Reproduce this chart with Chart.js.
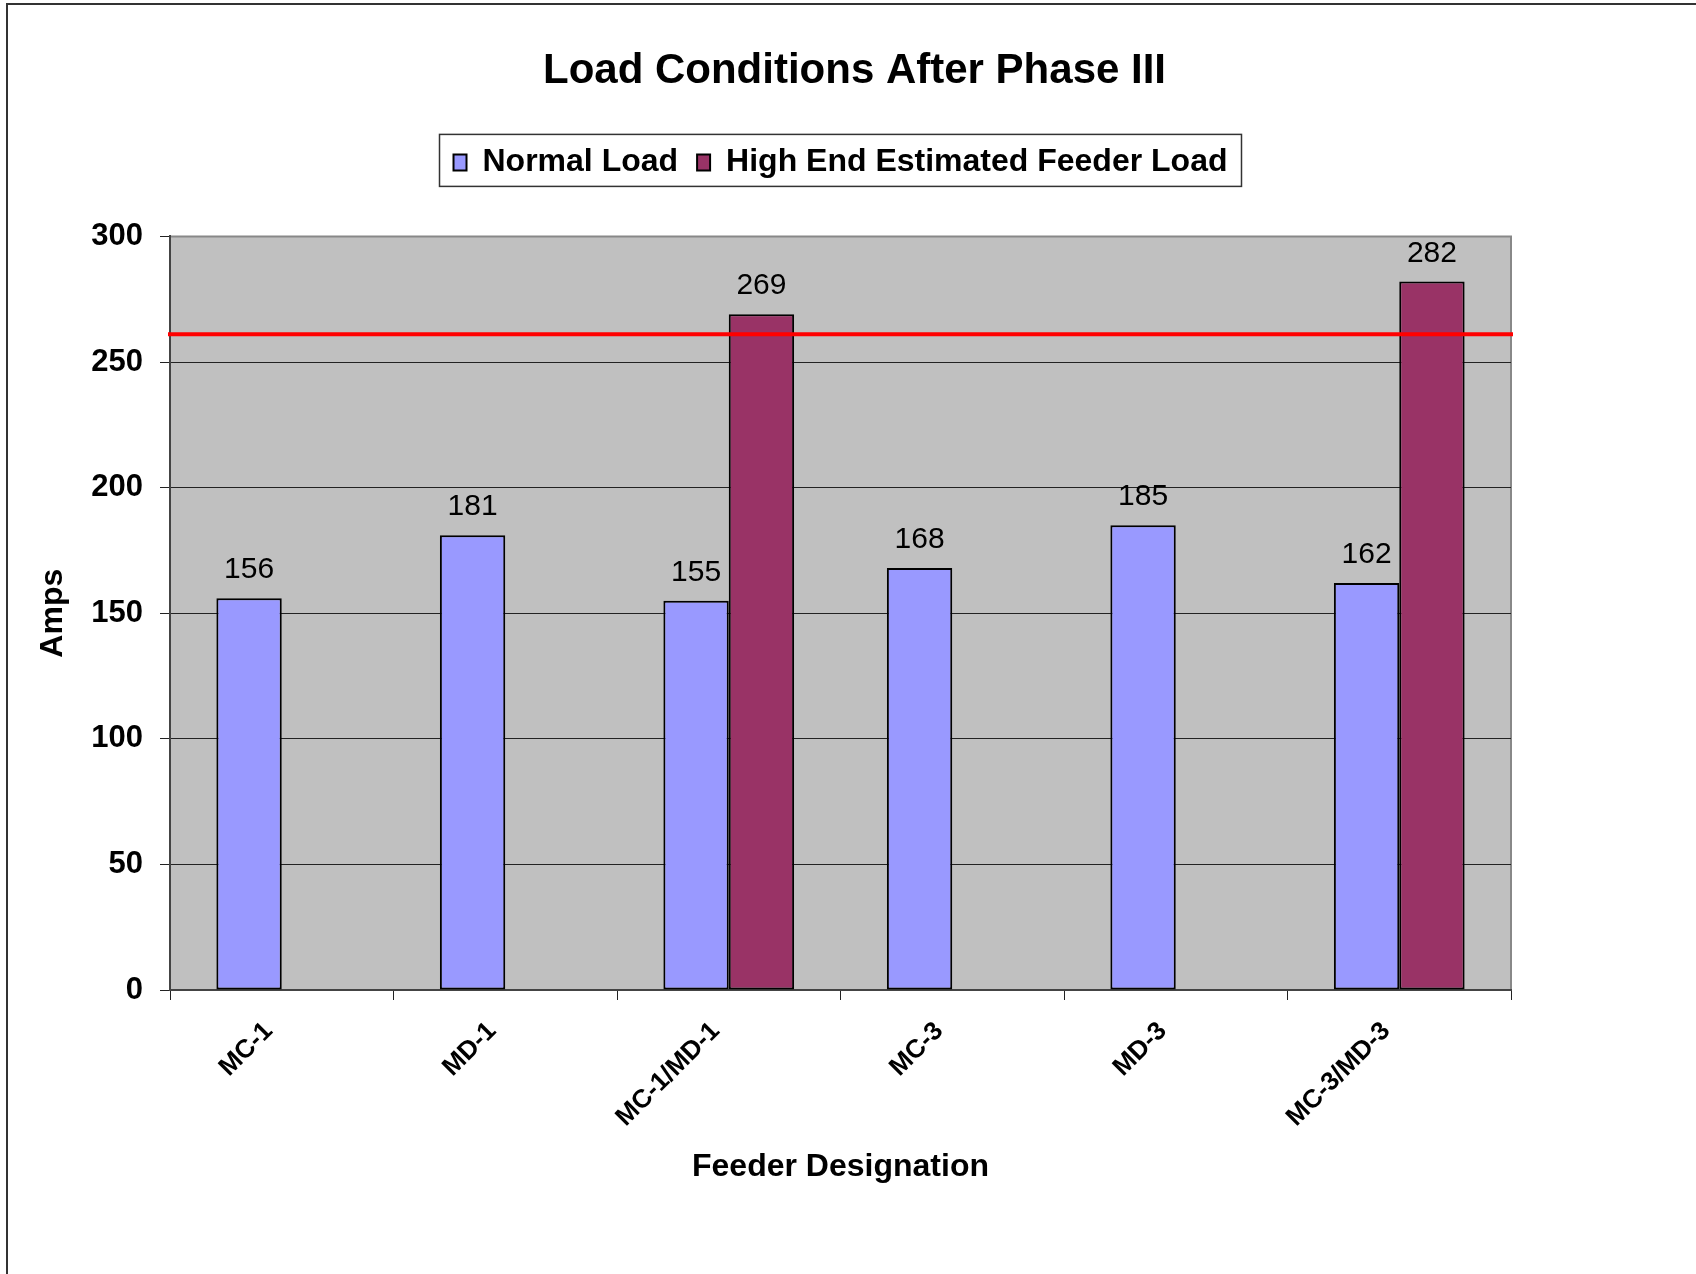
<!DOCTYPE html>
<html>
<head>
<meta charset="utf-8">
<script src="https://cdn.jsdelivr.net/npm/chart.js@4.4.0/dist/chart.umd.min.js"></script>
<style>
  html, body { margin: 0; padding: 0; background: #fff; overflow: hidden; }
  #wrap { position: relative; width: 1696px; height: 1274px; }
  #frame { position: absolute; left: 6px; top: 3px; width: 1700px; height: 1280px;
           border-left: 2px solid #333; border-top: 2px solid #333; pointer-events: none; }
</style>
</head>
<body>
<div id="wrap">
  <canvas id="grafico" width="1696" height="1274"></canvas>
  <div id="frame"></div>
</div>
<script>
const feeders = ['MC-1', 'MD-1', 'MC-1/MD-1', 'MC-3', 'MD-3', 'MC-3/MD-3'];
const normalLoad = [156, 181, 155, 168, 185, 162];
const highEndLoad = [null, null, 269, null, null, 282];
const ampTicks = [0, 50, 100, 150, 200, 250, 300];
const limiteAmps = 261;

Chart.defaults.font.family = '"Liberation Sans", Arial, Helvetica, sans-serif';
Chart.defaults.color = '#000';

// fundo cinza da area do grafico + borda cinza em cima e na direita
const fundoArea = {
  id: 'fundoArea',
  beforeDraw(chart) {
    const { ctx, chartArea: a } = chart;
    ctx.save();
    ctx.fillStyle = '#c0c0c0';
    ctx.fillRect(a.left, a.top, a.right - a.left, a.bottom - a.top);
    ctx.strokeStyle = '#888';
    ctx.lineWidth = 2;
    ctx.beginPath();
    ctx.moveTo(a.left, a.top);
    ctx.lineTo(a.right, a.top);
    ctx.lineTo(a.right, a.bottom);
    ctx.stroke();
    ctx.restore();
  }
};

// linha vermelha do limite + valores em cima das barras
const rotulos = {
  id: 'rotulos',
  afterDatasetsDraw(chart) {
    const { ctx, chartArea: a } = chart;
    const y = chart.scales.y.getPixelForValue(limiteAmps);
    ctx.save();
    ctx.strokeStyle = '#ff0000';
    ctx.lineWidth = 4;
    ctx.beginPath();
    ctx.moveTo(a.left - 2, y);
    ctx.lineTo(a.right + 2, y);
    ctx.stroke();

    ctx.font = '30px "Liberation Sans", Arial, sans-serif';
    ctx.fillStyle = '#000';
    ctx.textAlign = 'center';
    ctx.textBaseline = 'alphabetic';
    chart.data.datasets.forEach((ds, i) => {
      chart.getDatasetMeta(i).data.forEach((bar, j) => {
        const v = ds.data[j];
        if (v == null) return;
        ctx.fillText(String(v), bar.x, bar.y - 20);
      });
    });
    ctx.restore();
  }
};

// caixa em volta da legenda
const molduraLegenda = {
  id: 'molduraLegenda',
  afterDraw(chart) {
    const hb = chart.legend.legendHitBoxes;
    if (!hb || !hb.length) return;
    const ultimo = hb[hb.length - 1];
    const l = hb[0].left - 14;
    const r = ultimo.left + ultimo.width + 14;
    const cy = hb[0].top + hb[0].height / 2;
    const ctx = chart.ctx;
    ctx.save();
    ctx.strokeStyle = '#333';
    ctx.lineWidth = 1.5;
    ctx.strokeRect(l, cy - 28, r - l, 52);
    ctx.restore();
  }
};

new Chart(document.getElementById('grafico'), {
  type: 'bar',
  data: {
    labels: feeders,
    datasets: [
      {
        label: 'Normal Load',
        data: normalLoad,
        xAxisID: 'x',
        yAxisID: 'y',
        backgroundColor: '#9999ff',
        borderColor: '#000',
        borderWidth: 2,
        borderSkipped: false,
        categoryPercentage: 0.585,
        barPercentage: 1
      },
      {
        label: 'High End Estimated Feeder Load',
        data: highEndLoad,
        xAxisID: 'x',
        yAxisID: 'y',
        backgroundColor: '#993366',
        borderColor: '#000',
        borderWidth: 2,
        borderSkipped: false,
        categoryPercentage: 0.585,
        barPercentage: 1
      }
    ]
  },
  options: {
    responsive: false,
    animation: false,
    layout: { padding: { left: 13, right: 0, top: 0, bottom: 0 } },
    plugins: {
      title: {
        display: true,
        text: 'Load Conditions After Phase III',
        color: '#000',
        font: { size: 42, weight: 'bold' },
        padding: { top: 46, bottom: 31 }
      },
      legend: {
        position: 'top',
        fullSize: false,
        labels: {
          color: '#000',
          font: { size: 32, weight: 'bold' },
          boxWidth: 13,
          boxHeight: 16,
          padding: 19
        }
      },
      tooltip: { enabled: false }
    },
    scales: {
      x: {
        grid: { drawOnChartArea: false, drawTicks: true, tickLength: 10, color: '#222', offset: true },
        border: { display: true, color: '#444', width: 2 },
        ticks: { color: '#000', font: { size: 26, weight: 'bold' }, maxRotation: 45, minRotation: 45, autoSkip: false, padding: 16, labelOffset: -13 },
        title: { display: true, text: 'Feeder Designation', color: '#000', font: { size: 32, weight: 'bold' }, padding: { top: 0, bottom: 88 } },
        afterFit: s => { s.height = 284; }
      },
      y: {
        min: 0,
        max: 300,
        afterBuildTicks: s => { s.ticks = ampTicks.map(v => ({ value: v })); },
        grid: {
          color: c => (c.tick && c.tick.value === 300 ? '#888' : '#222'),
          tickColor: '#222',
          tickLength: 10,
          lineWidth: 1
        },
        border: { color: '#444', width: 2 },
        ticks: { color: '#000', font: { size: 31, weight: 'bold' }, padding: 17 },
        title: { display: true, text: 'Amps', color: '#000', font: { size: 32, weight: 'bold' }, padding: { top: 21, bottom: 0 } },
        afterFit: s => { s.width = 157; }
      },
      topo: {
        type: 'category',
        position: 'top',
        grid: { display: false },
        border: { display: false },
        ticks: { display: false },
        afterFit: s => { s.height = 48; }
      },
      direita: {
        type: 'linear',
        position: 'right',
        grid: { display: false },
        border: { display: false },
        ticks: { display: false },
        afterFit: s => { s.width = 185; }
      }
    }
  },
  plugins: [fundoArea, rotulos, molduraLegenda]
});
</script>
</body>
</html>
